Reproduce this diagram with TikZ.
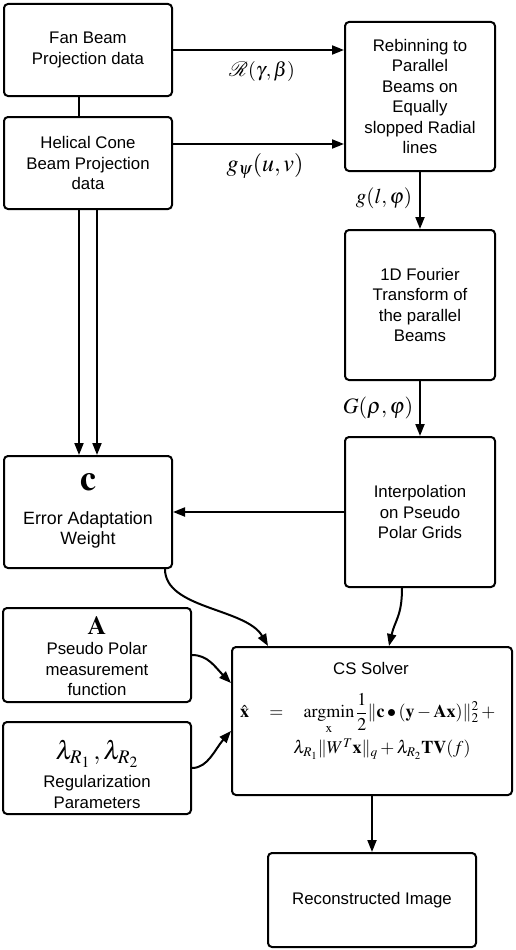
\documentclass[tikz,border=0pt]{standalone}
\usepackage{amsmath}
\usepackage{mathptmx}
\usepackage{mathrsfs}
\usepackage[no-math]{fontspec}
\setmainfont{Liberation Sans}
\usetikzlibrary{arrows.meta,calc}
\newcommand\boxfont{\fontsize{16.8}{20.5}\selectfont}
\newcommand\errfont{\fontsize{17.8}{20.5}\selectfont}
\begin{document}
\begin{tikzpicture}[x=1pt,y=-1pt,
  box/.style={draw, line width=2pt, rounded corners=4pt, inner sep=0pt, align=center, font=\boxfont},
  txt/.style={inner sep=0pt, align=center, font=\boxfont},
  lbl/.style={inner sep=0pt},
  plain/.style={line width=2pt},
  arr/.style={line width=2pt, -{Triangle[length=12pt,width=9pt]}}]
\useasboundingbox[fill=white] (0,0) rectangle (516,950);

% boxes
\node[box, minimum width=168pt, minimum height=92pt] (fan) at (88,50) {Fan Beam\\Projection data};
\node[box, minimum width=168pt, minimum height=92pt] (hel) at (88,163) {Helical Cone\\Beam Projection\\data};
\node[box, minimum width=150pt, minimum height=149pt] (reb) at (420,96.5) {Rebinning to\\Parallel\\Beams on\\Equally\\slopped Radial\\lines};
\node[box, minimum width=150pt, minimum height=150pt] (fou) at (420,305) {1D Fourier\\Transform of\\the parallel\\Beams};
\node[box, minimum width=150pt, minimum height=150pt] (int) at (420,512) {Interpolation\\on Pseudo\\Polar Grids};
\node[box, minimum width=168pt, minimum height=112pt] (err) at (88,512) {};
\node[lbl] (errc) at (88,482) {\fontsize{36}{40}\selectfont$\mathbf{c}$};
\node[txt, font=\errfont] (errt) at (88,530) {Error Adaptation\\Weight};
\node[box, minimum width=188pt, minimum height=94pt] (amat) at (97,655) {};
\node[lbl] (amatA) at (97,626) {\fontsize{26}{30}\selectfont$\mathbf{A}$};
\node[txt] (amatt) at (97,669) {Pseudo Polar\\measurement\\function};
\node[box, minimum width=188pt, minimum height=92pt] (lam) at (97,768) {};
\node[lbl] (laml) at (97,754) {\fontsize{26}{30}\selectfont$\lambda_{R_1}\,,\lambda_{R_2}$};
\node[txt] (lamt) at (97,792) {Regularization\\Parameters};
\node[box, minimum width=280pt, minimum height=148pt] (cs) at (372,721) {};
\node[txt] (cst) at (371,668) {CS Solver};
\node[lbl] (cse1) at (369,714) {\fontsize{18}{21}\selectfont$\displaystyle \hat{\mathbf{x}}\hspace{0.9em}=\hspace{0.9em}\operatorname*{argmin}_{\mathrm{x}}\frac{1}{2}\|\mathbf{c}\bullet(\mathbf{y}-\mathbf{A}\mathbf{x})\|_2^2+{}$};
\node[lbl] (cse2) at (382,749) {\fontsize{18}{21}\selectfont$\lambda_{R_1}\|W^T\mathbf{x}\|_q+\lambda_{R_2}\mathbf{TV}(f)$};
\node[box, minimum width=208pt, minimum height=94pt] (rec) at (372,900) {Reconstructed Image};

% labels
\node[lbl] (lR) at (262,72) {\fontsize{20}{24}\selectfont$\mathscr{R}(\gamma,\beta)$};
\node[lbl] (lg) at (265,166) {\fontsize{24}{28}\selectfont$g_{\psi}(u,v)$};
\node[lbl] (lgl) at (384,198) {\fontsize{21}{25}\selectfont$g(l,\varphi)$};
\node[lbl] (lG) at (378,408) {\fontsize{22}{26}\selectfont$G(\rho,\varphi)$};

% connectors
\draw[plain] ([xshift=-9pt]fan.south) -- ([xshift=-9pt]hel.north);
\draw[arr] (fan.east) -- (fan.east -| reb.west);
\draw[arr] ([yshift=19pt]hel.east) -- ([yshift=19pt]hel.east -| reb.west);
\draw[arr] (reb.south) -- (fou.north);
\draw[arr] (fou.south) -- (int.north);
\draw[arr] (int.west) -- (err.east);
\draw[arr] ([xshift=-9pt]hel.south) -- ([xshift=-9pt]err.north);
\draw[arr] ([xshift=9pt]hel.south) -- ([xshift=9pt]err.north);
\coordinate (e1) at ([xshift=-8pt]err.south east);
\coordinate (e2) at ([xshift=37pt]cs.north west);
\draw[arr] (e1) .. controls ($(e1)+(0,40)$) and ($(e2)+(-22,-38)$) .. (e2);
\coordinate (i1) at ([xshift=-18pt]int.south);
\coordinate (i2) at ([xshift=17pt]cs.north);
\draw[arr] (i1) .. controls ($(i1)+(0,28)$) and ($(i2)+(6,-26)$) .. (i2);
\coordinate (a2) at ([yshift=38pt]cs.west);
\draw[arr] (amat.east) .. controls ($(amat.east)+(16,0)$) and ($(a2)+(-16,-16)$) .. (a2);
\coordinate (l2) at ([yshift=-10pt]cs.west);
\draw[arr] (lam.east) .. controls ($(lam.east)+(16,0)$) and ($(l2)+(-16,18)$) .. (l2);
\draw[arr] (cs.south) -- (rec.north);
\end{tikzpicture}
\end{document}
